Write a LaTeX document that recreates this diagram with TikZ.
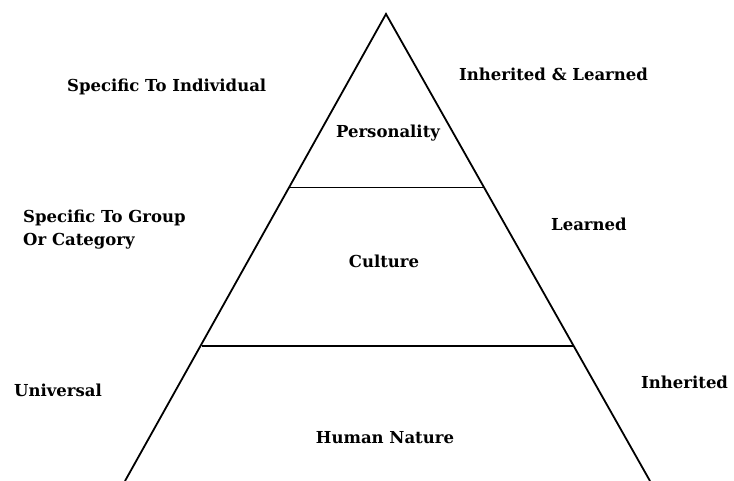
\documentclass[tikz,border=0pt]{standalone}
\usepackage{fontspec}
\setmainfont{DejaVu Serif}
\usetikzlibrary{positioning}

\tikzset{
        side/.style = {draw=black, line width=1.8pt},
        layer/.style = {draw=black, line width=1pt},
        base/.style = {draw=black, line width=2pt},
        txt/.style = {inner sep=0pt, font=\bfseries\fontsize{16.5}{23}\selectfont},
        note/.style = {txt, anchor=west, align=left}
    }

\begin{document}
\begin{tikzpicture}[x=1pt,y=1pt]
            \useasboundingbox (0,0) rectangle (734,481);
            \clip (0,0) rectangle (734,481);

            \coordinate (top) at (386,467);
            \coordinate (bl) at (125,0);
            \coordinate (br) at (650,0);
            \coordinate (l1) at (289,293);
            \coordinate (r1) at (484,293);
            \coordinate (l2) at (202,135);
            \coordinate (r2) at (573,135);

            \draw[side] (bl) -- (top) -- (br);
            \draw[layer] (l1) -- (r1);
            \draw[base] (l2) -- (r2);

            \node[txt] (pers) at (388,348) {Personality};
            \node[txt] (cult) at (384,220) {Culture};
            \node[txt] (hum) at (385,43) {Human Nature};

            \node[note] (indiv) at (67,394) {Specific To Individual};
            \node[note] (group) at (23,251) {Specific To Group\\Or Category};
            \node[note] (univ) at (14,91) {Universal};

            \node[note] (both) at (459,407) {Inherited \& Learned};
            \node[note] (lrn) at (551,257) {Learned};
            \node[note] (inh) at (641,99) {Inherited};
        \end{tikzpicture}
\end{document}
